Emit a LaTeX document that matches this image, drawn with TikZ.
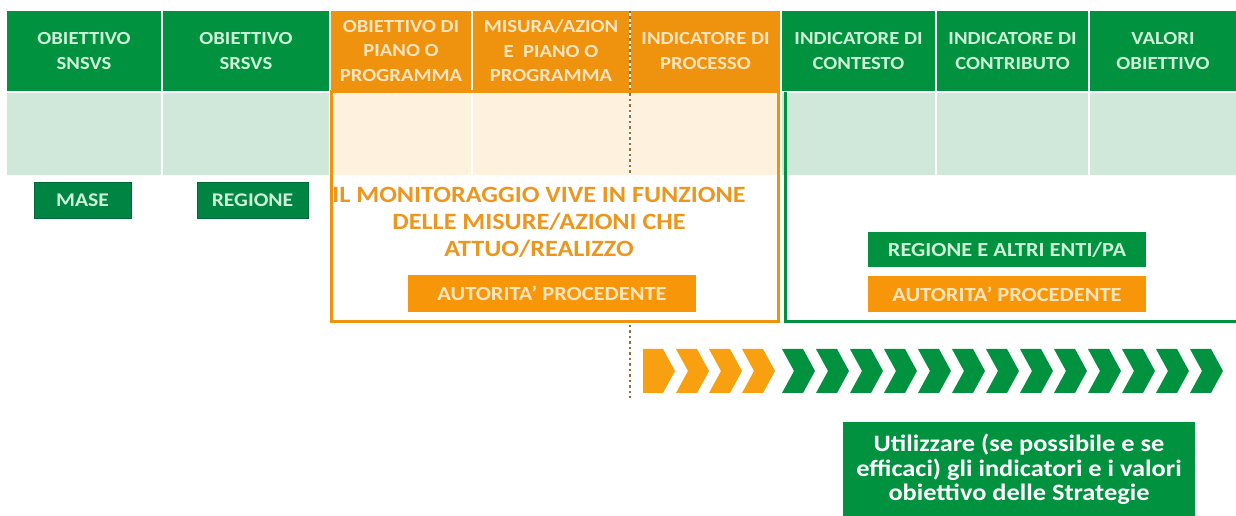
\documentclass[tikz,border=0pt]{standalone}
\usepackage{fontspec}
\setmainfont[FakeStretch=1.12]{Carlito}
\usepackage{tikz}
\usetikzlibrary{positioning}

\definecolor{hdrgreen}{RGB}{0,146,63}
\definecolor{boxgreen}{RGB}{0,132,68}
\definecolor{hdrorange}{RGB}{239,146,14}
\definecolor{boxorange}{RGB}{246,150,8}
\definecolor{arrorange}{RGB}{249,160,16}
\definecolor{lightgreen}{RGB}{207,232,217}
\definecolor{lightorange}{RGB}{254,241,222}
\definecolor{mintext}{RGB}{205,240,215}
\definecolor{creamtext}{RGB}{255,229,190}
\definecolor{montext}{RGB}{236,150,30}
\definecolor{dotbrown}{RGB}{150,110,60}

\begin{document}
\begin{tikzpicture}[
        x=0.02cm, y=-0.02cm,
        hgreen/.style={rectangle, fill=hdrgreen, text=mintext, align=center, minimum height=1.6cm, inner sep=0pt, font=\bfseries\fontsize{10.5}{13.9}\selectfont},
        horange/.style={hgreen, fill=hdrorange, text=creamtext},
        lgreen/.style={rectangle, fill=lightgreen, minimum height=1.64cm, inner sep=0pt},
        lorange/.style={lgreen, fill=lightorange},
        tag/.style={rectangle, fill=boxgreen, draw=boxgreen!80!black, text=mintext, minimum height=0.72cm, inner sep=0pt, font=\bfseries\fontsize{11}{13}\selectfont},
        wide/.style={rectangle, fill=hdrgreen, text=mintext, minimum width=5.58cm, minimum height=0.7cm, inner sep=0pt, font=\bfseries\fontsize{11.4}{13}\selectfont},
        wideorange/.style={wide, fill=boxorange, text=creamtext},
        frame/.style={line width=0.06cm},
        chevron/.style={fill=hdrgreen},
        timeline/.style={dotbrown, line width=0.055cm, dash pattern=on 0.05cm off 0.06cm},
    ]
        \useasboundingbox (0,0) rectangle (1236,516);

        \node[hgreen, minimum width=3.08cm] (h_snsvs) at (84,51) {OBIETTIVO\\SNSVS};
        \node[hgreen, minimum width=3.32cm] (h_srsvs) at (246,51) {OBIETTIVO\\SRSVS};
        \node[horange, minimum width=2.8cm] (h_piano) at (401,51) {OBIETTIVO DI\\PIANO O\\PROGRAMMA};
        \node[horange, minimum width=3.12cm] (h_misura) at (551,51) {MISURA/AZION\\E\ \ PIANO O\\PROGRAMMA};
        \node[horange, minimum width=2.98cm] (h_processo) at (705.5,51) {INDICATORE DI\\PROCESSO};
        \node[hgreen, minimum width=3.06cm] (h_contesto) at (858.5,51) {INDICATORE DI\\CONTESTO};
        \node[hgreen, minimum width=3.02cm] (h_contributo) at (1012.5,51) {INDICATORE DI\\CONTRIBUTO};
        \node[hgreen, minimum width=2.92cm] (h_valori) at (1163,51) {VALORI\\OBIETTIVO};

        \node[lgreen, minimum width=3.08cm] (r_snsvs) at (84,134) {};
        \node[lgreen, minimum width=3.32cm] (r_srsvs) at (246,134) {};
        \node[lorange, minimum width=2.8cm] (r_piano) at (401,134) {};
        \node[lorange, minimum width=3.12cm] (r_misura) at (551,134) {};
        \node[lorange, minimum width=2.98cm] (r_processo) at (705.5,134) {};
        \node[lgreen, minimum width=3.06cm] (r_contesto) at (858.5,134) {};
        \node[lgreen, minimum width=3.02cm] (r_contributo) at (1012.5,134) {};
        \node[lgreen, minimum width=2.92cm] (r_valori) at (1163,134) {};

        \draw[frame, hdrorange] (331,92) rectangle (778,322);
        \draw[frame, hdrgreen] (1240,322) -- (785,322) -- (785,92);

        \draw[timeline] (630,11) -- (630,175);
        \draw[timeline] (630,325) -- (630,398);

        \node[tag, minimum width=1.94cm] (mase) at (82.5,200.5) {MASE};
        \node[tag, minimum width=2.22cm] (regione) at (252.5,200.5) {REGIONE};

        \node[text=montext, align=center, font=\bfseries\fontsize{13.3}{15.3}\selectfont] (monitor) at (539,222) {IL MONITORAGGIO VIVE IN FUNZIONE\\DELLE MISURE/AZIONI CHE\\ATTUO/REALIZZO};
        \node[wideorange, minimum width=5.76cm, minimum height=0.74cm] (auth_left) at (552,293.5) {AUTORITA’ PROCEDENTE};

        \node[wide] (enti) at (1007,249.5) {REGIONE E ALTRI ENTI/PA};
        \node[wideorange, minimum height=0.72cm] (auth_right) at (1007,294) {AUTORITA’ PROCEDENTE};

        \fill[arrorange] (643,349) -- (663,349) -- (675,371) -- (663,393) -- (643,393) -- cycle;
        \foreach \i in {0,1,2}
            \fill[arrorange, shift={({676+33*\i},0)}] (0,349) -- (21,349) -- (33,371) -- (21,393) -- (0,393) -- (12,371) -- cycle;
        \foreach \i in {0,...,12}
            \fill[chevron, shift={({782+34*\i},0)}] (0,349) -- (21,349) -- (33,371) -- (21,393) -- (0,393) -- (12,371) -- cycle;

        \node[rectangle, fill=hdrgreen, text=white, align=center, minimum width=7.04cm, minimum height=1.9cm, inner sep=0pt, font=\bfseries\fontsize{13.4}{14}\selectfont] (strategie) at (1019,469.5) {Utilizzare (se possibile e se\\efficaci) gli indicatori e i valori\\obiettivo delle Strategie};
    \end{tikzpicture}
\end{document}
